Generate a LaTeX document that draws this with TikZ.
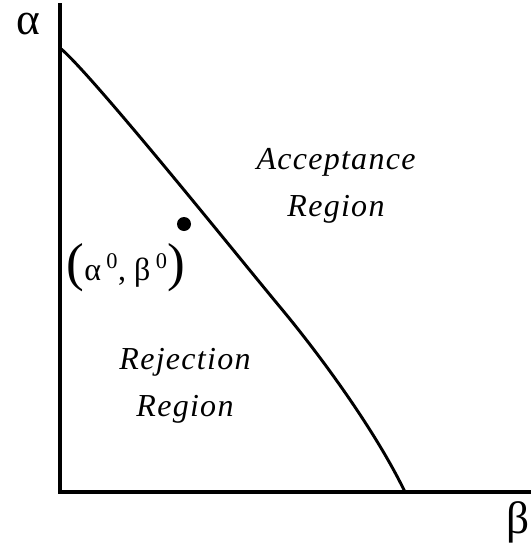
\documentclass[tikz,border=0pt]{standalone}
\usepackage{fontspec}
\setmainfont{Liberation Serif}
\newfontfamily\timesfont{Liberation Serif}
\newfontfamily\spacedfont{Liberation Serif}[LetterSpace=4]
\usepackage{tikz}

\tikzset{
  axis/.style={line width=2.8pt, line cap=rect},
  bound/.style={line width=2.2pt},
  region/.style={font=\spacedfont\fontsize{24}{35}\selectfont\itshape, align=center},
  greek/.style={font=\timesfont\fontsize{34}{34}\selectfont},
}

\begin{document}
\begin{tikzpicture}[x=0.75pt,y=0.75pt,yscale=-1,xscale=1]
\path[use as bounding box] (0,0) rectangle (531,550);

%Axes
\coordinate (ytop) at (60,5);
\coordinate (orig) at (60,492);
\coordinate (xend) at (531,492);
\draw[axis] (ytop) -- (orig) -- (xend);

%Boundary curve
\coordinate (cstart) at (60,48);
\coordinate (cmid) at (280,307);
\coordinate (cend) at (405,492);
\draw[bound] (cstart) .. controls (90,72) and (240,259) .. (cmid)
  .. controls (320,355) and (375,430) .. (cend);

%Point
\fill (184,224) circle [radius=7];

% Text Node
\node[greek] (alpha) at (28,24) {α};
% Text Node
\node[greek] (beta) at (518,522) {β};
% Text Node
\node[font=\timesfont\fontsize{24}{24}\selectfont] (pt) at (126,268)
  {{\fontsize{40}{40}\selectfont(}α\,\textsuperscript{0}, β\,\textsuperscript{0}{\fontsize{40}{40}\selectfont)}};
% Text Node
\node[region] (acc) at (336,186) {Acceptance\\Region};
% Text Node
\node[region] (rej) at (185,386) {Rejection\\Region};

\end{tikzpicture}
\end{document}
